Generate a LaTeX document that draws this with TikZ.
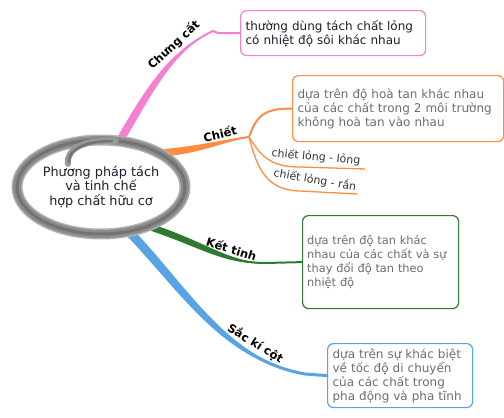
\documentclass[tikz,border=0pt]{standalone}
\usepackage{fontspec}
\setmainfont{DejaVu Sans}
\usetikzlibrary{shapes.geometric,calc}

\definecolor{pinkc}{HTML}{F57FD2}
\definecolor{orangec}{HTML}{FF8C40}
\definecolor{greenc}{HTML}{2E7A2E}
\definecolor{bluec}{HTML}{58A3E4}
\definecolor{inkc}{HTML}{1E1E2E}
\definecolor{notec}{HTML}{6E6E6E}

\tikzset{
  note/.style={draw, rounded corners=6pt, line width=1.2pt, fill=white, inner xsep=5pt, inner ysep=0pt, align=left, anchor=north west, text=notec, font=\fontsize{12}{14}\selectfont},
  branchlabel/.style={font=\fontsize{11.5}{12}\selectfont\bfseries, inner sep=3pt, sloped, above, text=black},
  sublabel/.style={font=\fontsize{11}{12}\selectfont, text=black!80, inner sep=0pt},
}

\begin{document}
\begin{tikzpicture}[x=1pt, y=-1pt]
\useasboundingbox (0,0) rectangle (504,418);

% centre and boxes
\node[ellipse, minimum width=168, minimum height=94, inner sep=0pt, align=center, text=inkc, font=\fontsize{12.8}{14.5}\selectfont] (core) at (101,187) {Phương pháp tách\\và tinh chế\\hợp chất hữu cơ};

\node[note, draw=pinkc, text=inkc, minimum height=45, text width=175] (distil) at (240,10) {thường dùng tách chất lỏng\\có nhiệt độ sôi khác nhau};
\node[note, draw=orangec, minimum height=66, text width=201] (extract) at (292,75) {dựa trên độ hoà tan khác nhau\\của các chất trong 2 môi trường\\không hoà tan vào nhau};
\node[note, draw=greenc, minimum height=93, text width=147, inner xsep=4.5pt, font=\fontsize{11.4}{14}\selectfont] (cryst) at (302,215) {dựa trên độ tan khác\\nhau của các chất và sự\\thay đổi độ tan theo\\nhiệt độ};
\node[note, draw=bluec, minimum height=64, text width=135] (chrom) at (327,343) {dựa trên sự khác biệt\\về tốc độ di chuyển\\của các chất trong\\pha động và pha tĩnh};

% branch ends
\coordinate (p0) at (core.68);
\coordinate (p1) at (213,31);
\coordinate (o0) at (core.30);
\coordinate (oj) at (249,137);
\coordinate (ll) at (365,169);
\coordinate (lr) at (357,194);
\coordinate (g0) at (core.-40);
\coordinate (g1) at (265,263);
\coordinate (b0) at (core.-58);
\coordinate (b1) at (305,374);

% Chưng cất
\fill[pinkc] ($(p0)+(-3.8,-1.3)$) .. controls (148,84) and (171,49) .. (p1) .. controls (173,52) and (156,87) .. ($(p0)+(3.8,1.3)$) -- cycle;
\draw[pinkc, line width=2] (p0) .. controls (152,85) and (172,50) .. (p1)
  node[branchlabel, pos=0.7] (distlabel) {Chưng cất} -- (218,33) -- (distil.west);

% Chiết
\fill[orangec] ($(o0)+(-1.8,-3.6)$) .. controls (199,146.5) and (225,138.5) .. (oj) .. controls (225,141.5) and (201,153.5) .. ($(o0)+(1.8,3.6)$) -- cycle;
\draw[orangec, line width=2] (o0) .. controls (200,150) and (225,140) .. (oj)
  node[branchlabel, pos=0.64] (extlabel) {Chiết};
\draw[orangec, line width=2] (oj) .. controls (256,118) and (262,108) .. (extract.west);
\draw[orangec, line width=1.3] (oj) .. controls (262,158) and (272,167) .. (300,167) -- (ll);
\draw[orangec, line width=1.3] (oj) .. controls (258,172) and (268,190) .. (300,191) -- (lr);
\node[sublabel, rotate=-5] (lllabel) at (316,157) {chiết lỏng - lỏng};
\node[sublabel, rotate=-10] (lrlabel) at (315,180) {chiết lỏng - rắn};

% Kết tinh
\fill[greenc] ($(g0)+(2,-2.8)$) .. controls (207,242) and (226,261) .. (g1) .. controls (224,265) and (203,248) .. ($(g0)+(-2,2.8)$) -- cycle;
\draw[greenc, line width=2] (g0) .. controls (205,245) and (225,263) .. (g1)
  node[branchlabel, pos=0.66] (crylabel) {Kết tinh} -- (cryst.west);

% Sắc kí cột
\fill[bluec] ($(b0)+(3.8,-2.4)$) .. controls (189,288) and (227,358) .. (b1) .. controls (223,362) and (181,292) .. ($(b0)+(-3.8,2.4)$) -- cycle;
\draw[bluec, line width=3] (b0) .. controls (185,290) and (225,360) .. (b1)
  node[branchlabel, pos=0.74] (chrlabel) {Sắc kí cột} -- (chrom.west);

% brush ring
\draw[black!30, line width=11pt] (core.center) ellipse [x radius=84pt, y radius=47pt];
\draw[black!45, line width=8pt] (core.center) ellipse [x radius=84pt, y radius=47pt];
\draw[black!55, line width=3pt] (core.center) ellipse [x radius=84pt, y radius=47pt];
\draw[black!40, line width=6pt, line cap=round] (68,164) .. controls (66,148) and (86,139) .. (116,141);
\draw[black!55, line width=2.5pt, line cap=round] (69,162) .. controls (68,149) and (86,141) .. (112,141);

\end{tikzpicture}
\end{document}
